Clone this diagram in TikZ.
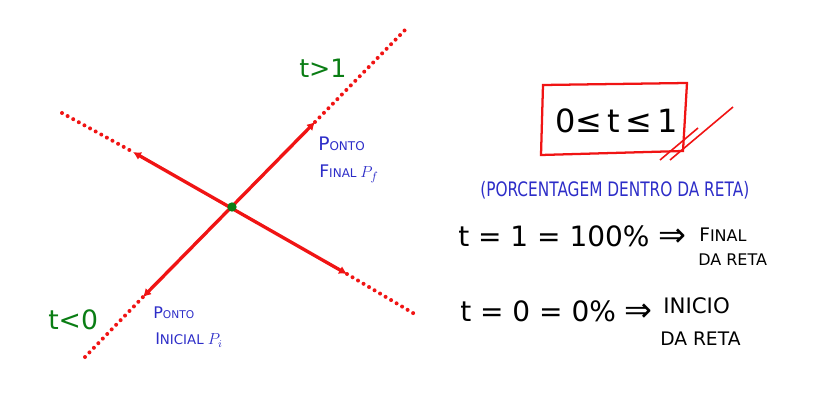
\documentclass[tikz,border=0pt]{standalone}
\usepackage{fontspec}
\setmainfont{DejaVu Sans}
\usetikzlibrary{arrows.meta}
\definecolor{penred}{RGB}{240,20,20}
\definecolor{pengreen}{RGB}{10,125,20}
\definecolor{penblue}{RGB}{45,45,200}
\tikzset{
  solidseg/.style={penred, line width=2.5pt, {Latex[length=6pt,width=6.5pt]}-{Latex[length=6pt,width=6.5pt]}},
  dotseg/.style={penred, line width=3pt, line cap=round, dash pattern=on 0pt off 4.8pt},
  greentxt/.style={pengreen, inner sep=0pt, anchor=west},
  bluetxt/.style={penblue, inner sep=0pt, anchor=west},
  blacktxt/.style={black, inner sep=0pt, anchor=west},
}
\newcommand{\fs}[1]{\fontsize{#1}{#1}\selectfont}
\begin{document}
\begin{tikzpicture}[x=0.75pt,y=-0.75pt]
\useasboundingbox (0,0) rectangle (813,413);
% line points
\coordinate (E1) at (85,357);
\coordinate (Pi) at (143,297);
\coordinate (Pf) at (315,122);
\coordinate (E2) at (405,30);
\coordinate (E3) at (62,113);
\coordinate (A) at (133,152);
\coordinate (B) at (347,274);
\coordinate (E4) at (418,316);
% dotted extensions
\draw[dotseg] (E1) -- (Pi);
\draw[dotseg] (Pf) -- (E2);
\draw[dotseg] (E3) -- (A);
\draw[dotseg] (B) -- (E4);
% solid segments
\draw[solidseg] (Pi) -- (Pf);
\draw[solidseg] (A) -- (B);
\node[circle, fill=pengreen, inner sep=0pt, minimum size=7pt] (C) at (232,207) {};
% green labels
\node[greentxt] (tgt) at (299,68) {\fs{19}t>1};
\node[greentxt] (tlt) at (48,320) {\fs{20}t<0};
% blue labels
\node[bluetxt] (pf1) at (318,144) {\fs{14}P\fs{9}ONTO};
\node[bluetxt] (pf2) at (319,174) {\fs{13}F\fs{9}INAL \fs{13}$P_f$};
\node[bluetxt] (pi1) at (153,313) {\fs{12}P\fs{8}ONTO};
\node[bluetxt] (pi2) at (155,340) {\fs{12}I\fs{10}NICIAL \fs{12}$P_i$};
% box
\node[blacktxt] (ineq) at (555,121) {\fs{24}0≤\,t\,≤\,1};
\draw[penred, line width=1.7pt] (543,85) -- (687,83) -- (683,151) -- (541,155) -- cycle;
\draw[penred, line width=1.2pt] (660,160) -- (698,128);
\draw[penred, line width=1.2pt] (670,160) -- (733,107);
% right texts
\node[bluetxt] (pct) at (480,190) {\scalebox{1}[1.3]{\fs{11.5}(PORCENTAGEM DENTRO DA RETA)}};
\node[blacktxt] (eq1) at (458,236) {\fs{21}t = 1 = 100\% \fs{25}⇒};
\node[blacktxt] (fin) at (699,235) {\fs{14}F\fs{12}INAL};
\node[blacktxt] (dr1) at (698,260) {\fs{12}DA RETA};
\node[blacktxt] (eq2) at (460,311) {\fs{21}t = 0 = 0\% \fs{25}⇒};
\node[blacktxt] (ini) at (663,306) {\fs{16}INICIO};
\node[blacktxt] (dr2) at (660,339) {\fs{14}DA RETA};
\end{tikzpicture}
\end{document}
